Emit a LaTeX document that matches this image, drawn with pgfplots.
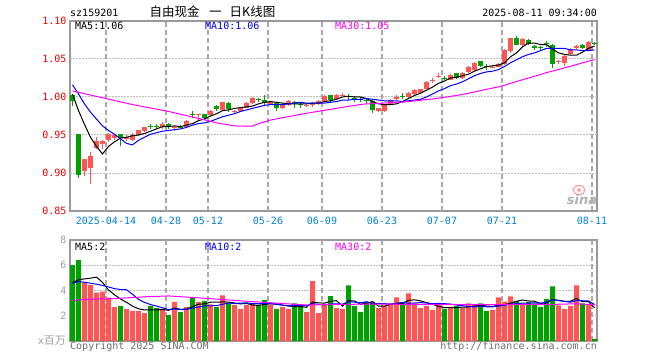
\documentclass[border=0pt]{standalone}
\usepackage{fontspec}
\setmainfont{DejaVu Sans}
\newfontfamily\mono{DejaVu Sans Mono}
\newfontfamily\cjk{Noto Sans CJK SC}
\usepackage{pgfplots}
\pgfplotsset{compat=1.18}
\definecolor{upred}{RGB}{255,85,85}
\definecolor{dngreen}{RGB}{0,160,0}
\definecolor{framegray}{RGB}{153,153,153}
\definecolor{gridgray}{RGB}{170,170,170}
\definecolor{dotgray}{RGB}{190,190,190}
\definecolor{datelbl}{RGB}{0,130,220}
\definecolor{pricelbl}{RGB}{240,0,0}
\definecolor{vollbl}{RGB}{160,160,160}
\definecolor{footgray}{RGB}{110,110,110}
\definecolor{maA}{RGB}{0,0,0}
\definecolor{maB}{RGB}{0,0,255}
\definecolor{maC}{RGB}{255,0,255}
\newcommand\mf{\mono\fontsize{10bp}{12bp}\selectfont}
\pgfplotsset{
  base/.style={
    scale only axis, anchor=south west, width=527bp,
    xmin=-0.4167, xmax=87.4167,
    axis line style={draw=framegray, line width=1.5bp},
    tick style={draw=none},
    xtick={5.58,15.58,22.58,32.58,41.58,51.58,61.58,71.58,86.58},
    ticklabel style={font=\mf},
  },
  vgrid/.style={gridgray, line width=1.2bp, dash pattern=on 5bp off 3bp, forget plot},
  hgrid/.style={dotgray, line width=1bp, dash pattern=on 2bp off 1bp, forget plot},
  wick/.style={line width=1bp, unbounded coords=jump},
  body/.style={line width=5bp, unbounded coords=jump},
}
\begin{document}
\begin{tikzpicture}[x=1bp,y=1bp]
\fill[white] (0,0) rectangle (660,360);
\path[use as bounding box] (0,0) rectangle (660,360);

% ---------------- price panel ----------------
\begin{axis}[base, at={(70bp,149bp)}, height=190bp,
  ymin=0.85, ymax=1.10,
  ytick={0.85,0.90,0.95,1.00,1.05,1.10},
  yticklabels={0.85,0.90,0.95,1.00,1.05,1.10},
  yticklabel style={text=pricelbl},
  xticklabels={2025-04-14,04-28,05-12,05-26,06-09,06-23,07-07,07-21,08-11},
  xticklabel style={text=datelbl, yshift=-3bp},
]
% grid lines (drawn as plain lines through the axis)
\addplot[hgrid] coordinates {(-0.4,0.90)(87.4,0.90)};
\addplot[hgrid] coordinates {(-0.4,0.95)(87.4,0.95)};
\addplot[hgrid] coordinates {(-0.4,1.00)(87.4,1.00)};
\addplot[hgrid] coordinates {(-0.4,1.05)(87.4,1.05)};
\addplot[vgrid] coordinates {(5.58,0.85)(5.58,1.10)};
\addplot[vgrid] coordinates {(15.58,0.85)(15.58,1.10)};
\addplot[vgrid] coordinates {(22.58,0.85)(22.58,1.10)};
\addplot[vgrid] coordinates {(32.58,0.85)(32.58,1.10)};
\addplot[vgrid] coordinates {(41.58,0.85)(41.58,1.10)};
\addplot[vgrid] coordinates {(51.58,0.85)(51.58,1.10)};
\addplot[vgrid] coordinates {(61.58,0.85)(61.58,1.10)};
\addplot[vgrid] coordinates {(71.58,0.85)(71.58,1.10)};
\addplot[vgrid] coordinates {(86.58,0.85)(86.58,1.10)};
% red wicks
\addplot[upred, wick] coordinates {
(2,0.896)(2,0.919)(2,nan) (3,0.885)(3,0.927)(3,nan) (4,0.931)(4,0.947)(4,nan) (5,0.932)(5,0.944)(5,nan) (6,0.941)(6,0.952)(6,nan) (7,0.943)(7,0.951)(7,nan) (9,0.942)(9,0.950)(9,nan) (10,0.942)(10,0.952)(10,nan) (11,0.949)(11,0.957)(11,nan) (12,0.954)(12,0.961)(12,nan) (15,0.958)(15,0.967)(15,nan) (17,0.955)(17,0.963)(17,nan) (19,0.959)(19,0.970)(19,nan) (21,0.970)(21,0.977)(21,nan) (23,0.975)(23,0.983)(23,nan) (25,0.982)(25,0.994)(25,nan) (27,0.979)(27,0.983)(27,nan) (28,0.981)(28,0.986)(28,nan) (29,0.985)(29,0.993)(29,nan) (30,0.991)(30,1.000)(30,nan) (33,0.990)(33,0.994)(33,nan) (35,0.984)(35,0.992)(35,nan) (36,0.988)(36,0.996)(36,nan) (39,0.987)(39,0.991)(39,nan) (40,0.987)(40,0.993)(40,nan) (41,0.990)(41,0.996)(41,nan) (42,0.994)(42,1.002)(42,nan) (44,0.996)(44,1.004)(44,nan) (45,1.001)(45,1.005)(45,nan) (51,0.980)(51,0.986)(51,nan) (52,0.980)(52,0.991)(52,nan) (53,0.989)(53,0.997)(53,nan) (54,0.996)(54,1.002)(54,nan) (56,0.999)(56,1.006)(56,nan) (57,1.003)(57,1.010)(57,nan) (58,1.004)(58,1.011)(58,nan) (59,1.010)(59,1.021)(59,nan) (60,1.019)(60,1.025)(60,nan) (61,1.025)(61,1.031)(61,nan) (63,1.022)(63,1.030)(63,nan) (65,1.024)(65,1.033)(65,nan) (66,1.032)(66,1.041)(66,nan) (67,1.034)(67,1.046)(67,nan) (70,1.038)(70,1.042)(70,nan) (71,1.039)(71,1.045)(71,nan) (72,1.042)(72,1.063)(72,nan) (73,1.058)(73,1.078)(73,nan) (75,1.066)(75,1.077)(75,nan) (81,1.043)(81,1.049)(81,nan) (82,1.041)(82,1.055)(82,nan) (83,1.055)(83,1.064)(83,nan) (84,1.063)(84,1.068)(84,nan) (86,1.060)(86,1.074)(86,nan)
};
% red bodies (open -> close)
\addplot[upred, body] coordinates {
(2,0.902)(2,0.919)(2,nan) (3,0.906)(3,0.922)(3,nan) (4,0.933)(4,0.942)(4,nan) (5,0.938)(5,0.942)(5,nan) (6,0.944)(6,0.951)(6,nan) (7,0.946)(7,0.950)(7,nan) (9,0.945)(9,0.948)(9,nan) (10,0.944)(10,0.950)(10,nan) (11,0.950)(11,0.956)(11,nan) (12,0.955)(12,0.960)(12,nan) (15,0.961)(15,0.965)(15,nan) (17,0.959)(17,0.961)(17,nan) (19,0.960)(19,0.969)(19,nan) (21,0.976)(21,0.977)(21,nan) (23,0.976)(23,0.982)(23,nan) (25,0.983)(25,0.993)(25,nan) (27,0.980)(27,0.982)(27,nan) (28,0.982)(28,0.985)(28,nan) (29,0.986)(29,0.992)(29,nan) (30,0.992)(30,0.999)(30,nan) (33,0.991)(33,0.993)(33,nan) (35,0.986)(35,0.991)(35,nan) (36,0.989)(36,0.995)(36,nan) (39,0.989)(39,0.990)(39,nan) (40,0.989)(40,0.992)(40,nan) (41,0.991)(41,0.995)(41,nan) (42,0.995)(42,1.001)(42,nan) (44,0.997)(44,1.003)(44,nan) (45,1.002)(45,1.003)(45,nan) (51,0.981)(51,0.985)(51,nan) (52,0.981)(52,0.990)(52,nan) (53,0.990)(53,0.996)(53,nan) (54,0.998)(54,1.000)(54,nan) (56,1.000)(56,1.005)(56,nan) (57,1.004)(57,1.009)(57,nan) (58,1.005)(58,1.010)(58,nan) (59,1.011)(59,1.020)(59,nan) (60,1.021)(60,1.022)(60,nan) (61,1.027)(61,1.028)(61,nan) (63,1.023)(63,1.029)(63,nan) (65,1.025)(65,1.032)(65,nan) (66,1.033)(66,1.040)(66,nan) (67,1.035)(67,1.045)(67,nan) (70,1.039)(70,1.040)(70,nan) (71,1.040)(71,1.044)(71,nan) (72,1.043)(72,1.062)(72,nan) (73,1.060)(73,1.077)(73,nan) (75,1.068)(75,1.076)(75,nan) (81,1.046)(81,1.047)(81,nan) (82,1.045)(82,1.054)(82,nan) (83,1.056)(83,1.063)(83,nan) (84,1.064)(84,1.067)(84,nan) (86,1.062)(86,1.072)(86,nan)
};
% green wicks
\addplot[dngreen, wick] coordinates {
(0,0.988)(0,1.004)(0,nan) (1,0.893)(1,0.951)(1,nan) (8,0.936)(8,0.951)(8,nan) (13,0.958)(13,0.964)(13,nan) (14,0.958)(14,0.964)(14,nan) (16,0.958)(16,0.966)(16,nan) (18,0.959)(18,0.963)(18,nan) (20,0.972)(20,0.981)(20,nan) (22,0.971)(22,0.978)(22,nan) (24,0.981)(24,0.989)(24,nan) (26,0.980)(26,0.993)(26,nan) (31,0.993)(31,0.999)(31,nan) (32,0.990)(32,1.002)(32,nan) (34,0.981)(34,0.993)(34,nan) (37,0.986)(37,0.995)(37,nan) (38,0.985)(38,0.992)(38,nan) (43,0.992)(43,1.003)(43,nan) (46,0.996)(46,1.004)(46,nan) (47,0.993)(47,1.001)(47,nan) (48,0.993)(48,1.000)(48,nan) (49,0.991)(49,0.998)(49,nan) (50,0.979)(50,0.996)(50,nan) (55,0.997)(55,1.005)(55,nan) (62,1.022)(62,1.027)(62,nan) (64,1.024)(64,1.032)(64,nan) (68,1.040)(68,1.048)(68,nan) (69,1.036)(69,1.044)(69,nan) (74,1.068)(74,1.080)(74,nan) (76,1.068)(76,1.076)(76,nan) (77,1.062)(77,1.069)(77,nan) (78,1.062)(78,1.067)(78,nan) (79,1.066)(79,1.074)(79,nan) (80,1.038)(80,1.070)(80,nan) (85,1.063)(85,1.070)(85,nan) (87,1.068)(87,1.073)(87,nan)
};
% green bodies
\addplot[dngreen, body] coordinates {
(0,1.003)(0,0.995)(0,nan) (1,0.951)(1,0.898)(1,nan) (8,0.951)(8,0.946)(8,nan) (13,0.962)(13,0.961)(13,nan) (14,0.962)(14,0.961)(14,nan) (16,0.964)(16,0.960)(16,nan) (18,0.961)(18,0.960)(18,nan) (20,0.978)(20,0.977)(20,nan) (22,0.977)(22,0.972)(22,nan) (24,0.988)(24,0.984)(24,nan) (26,0.992)(26,0.984)(26,nan) (31,0.998)(31,0.996)(31,nan) (32,0.996)(32,0.992)(32,nan) (34,0.992)(34,0.986)(34,nan) (37,0.994)(37,0.991)(37,nan) (38,0.991)(38,0.990)(38,nan) (43,1.002)(43,0.996)(43,nan) (46,1.001)(46,1.000)(46,nan) (47,0.999)(47,0.998)(47,nan) (48,0.997)(48,0.996)(48,nan) (49,0.996)(49,0.995)(49,nan) (50,0.995)(50,0.983)(50,nan) (55,1.001)(55,1.000)(55,nan) (62,1.025)(62,1.024)(62,nan) (64,1.031)(64,1.025)(64,nan) (68,1.047)(68,1.041)(68,nan) (69,1.041)(69,1.040)(69,nan) (74,1.078)(74,1.069)(74,nan) (76,1.075)(76,1.070)(76,nan) (77,1.067)(77,1.065)(77,nan) (78,1.066)(78,1.065)(78,nan) (79,1.071)(79,1.070)(79,nan) (80,1.069)(80,1.043)(80,nan) (85,1.069)(85,1.064)(85,nan) (87,1.071)(87,1.070)(87,nan)
};
% MA5
\addplot[maA, line width=1bp] coordinates {
(0,1.004)(1,0.982)(2,0.964)(3,0.947)(4,0.935)(5,0.925)(6,0.935)(7,0.941)(8,0.946)(9,0.947)(10,0.949)(11,0.950)(12,0.952)(13,0.955)(14,0.958)(15,0.961)(16,0.961)(17,0.962)(18,0.961)(19,0.963)(20,0.965)(21,0.969)(22,0.971)(23,0.975)(24,0.978)(25,0.982)(26,0.983)(27,0.985)(28,0.986)(29,0.987)(30,0.988)(31,0.991)(32,0.993)(33,0.994)(34,0.993)(35,0.992)(36,0.991)(37,0.991)(38,0.991)(39,0.991)(40,0.992)(41,0.992)(42,0.994)(43,0.995)(44,0.997)(45,1.000)(46,1.001)(47,1.000)(48,1.000)(49,0.998)(50,0.994)(51,0.991)(52,0.990)(53,0.990)(54,0.991)(55,0.994)(56,0.998)(57,1.002)(58,1.005)(59,1.009)(60,1.013)(61,1.018)(62,1.021)(63,1.025)(64,1.026)(65,1.028)(66,1.030)(67,1.034)(68,1.037)(69,1.040)(70,1.041)(71,1.042)(72,1.045)(73,1.053)(74,1.058)(75,1.066)(76,1.071)(77,1.071)(78,1.069)(79,1.069)(80,1.063)(81,1.058)(82,1.056)(83,1.055)(84,1.055)(85,1.059)(86,1.064)(87,1.067)
};
% MA10
\addplot[maB, line width=1bp] coordinates {
(0,1.016)(1,1.004)(2,0.991)(3,0.980)(4,0.971)(5,0.962)(6,0.956)(7,0.951)(8,0.945)(9,0.939)(10,0.937)(11,0.943)(12,0.947)(13,0.951)(14,0.953)(15,0.955)(16,0.956)(17,0.957)(18,0.958)(19,0.960)(20,0.963)(21,0.965)(22,0.966)(23,0.968)(24,0.971)(25,0.974)(26,0.976)(27,0.978)(28,0.981)(29,0.983)(30,0.985)(31,0.987)(32,0.989)(33,0.990)(34,0.990)(35,0.990)(36,0.991)(37,0.992)(38,0.993)(39,0.992)(40,0.992)(41,0.992)(42,0.992)(43,0.993)(44,0.994)(45,0.996)(46,0.996)(47,0.997)(48,0.997)(49,0.998)(50,0.997)(51,0.996)(52,0.995)(53,0.995)(54,0.995)(55,0.994)(56,0.995)(57,0.996)(58,0.997)(59,1.000)(60,1.004)(61,1.008)(62,1.011)(63,1.015)(64,1.017)(65,1.020)(66,1.024)(67,1.028)(68,1.031)(69,1.033)(70,1.034)(71,1.036)(72,1.040)(73,1.045)(74,1.049)(75,1.053)(76,1.056)(77,1.058)(78,1.061)(79,1.064)(80,1.064)(81,1.064)(82,1.064)(83,1.062)(84,1.062)(85,1.061)(86,1.061)(87,1.062)
};
% MA30
\addplot[maC, line width=1bp] coordinates {
(0,1.008)(5,0.999)(10,0.990)(16,0.981)(22,0.970)(24,0.966)(27,0.962)(29,0.9615)(30,0.9616)(31,0.9649)(32,0.9673)(33,0.9697)(34,0.9711)(35,0.9728)(36,0.9742)(37,0.9756)(38,0.9771)(39,0.9785)(40,0.9799)(41,0.9812)(42,0.9825)(43,0.9837)(44,0.9851)(45,0.9864)(46,0.9877)(47,0.9889)(48,0.9901)(49,0.9910)(50,0.9912)(51,0.9915)(52,0.9921)(53,0.9925)(54,0.9931)(55,0.9933)(56,0.9940)(57,0.9949)(58,0.9957)(59,0.9967)(60,0.9974)(61,0.9985)(62,0.9996)(63,1.0008)(64,1.0021)(65,1.0034)(66,1.0049)(67,1.0067)(68,1.0084)(69,1.0101)(70,1.0117)(71,1.0133)(72,1.0154)(73,1.0181)(74,1.0203)(75,1.0227)(76,1.0250)(77,1.0273)(78,1.0296)(79,1.0321)(80,1.0341)(81,1.0361)(82,1.0383)(83,1.0405)(84,1.0427)(85,1.0449)(86,1.0471)(87,1.0491)
};
\end{axis}

% ---------------- volume panel ----------------
\begin{axis}[base, at={(70bp,19bp)}, height=101bp,
  ymin=0, ymax=8,
  ytick={2,4,6,8}, yticklabels={2,4,6,8},
  yticklabel style={text=vollbl},
  xticklabels={},
]
\addplot[hgrid] coordinates {(-0.4,2)(87.4,2)};
\addplot[hgrid] coordinates {(-0.4,4)(87.4,4)};
\addplot[hgrid] coordinates {(-0.4,6)(87.4,6)};
\addplot[vgrid] coordinates {(5.58,0)(5.58,8)};
\addplot[vgrid] coordinates {(15.58,0)(15.58,8)};
\addplot[vgrid] coordinates {(22.58,0)(22.58,8)};
\addplot[vgrid] coordinates {(32.58,0)(32.58,8)};
\addplot[vgrid] coordinates {(41.58,0)(41.58,8)};
\addplot[vgrid] coordinates {(51.58,0)(51.58,8)};
\addplot[vgrid] coordinates {(61.58,0)(61.58,8)};
\addplot[vgrid] coordinates {(71.58,0)(71.58,8)};
\addplot[vgrid] coordinates {(86.58,0)(86.58,8)};
\addplot[ybar, bar width=5bp, bar shift=0pt, fill=upred, draw=none] coordinates {
(2,4.62)(3,4.44)(4,3.83)(5,3.91)(6,3.44)(7,2.68)(9,2.52)(10,2.39)(11,2.39)(12,2.20)(15,2.52)(17,3.10)(19,2.68)(21,3.10)(23,2.91)(25,3.62)(27,2.86)(28,2.55)(29,2.86)(30,2.99)(33,2.86)(35,2.68)(36,2.55)(39,2.28)(40,4.75)(41,2.20)(42,2.91)(44,2.60)(45,2.52)(51,2.60)(52,2.78)(53,2.99)(54,3.46)(56,3.78)(57,2.99)(58,2.60)(59,2.78)(60,2.47)(61,2.86)(63,2.60)(65,2.60)(66,2.99)(67,2.86)(70,2.47)(71,3.46)(72,3.12)(73,3.54)(75,2.99)(81,2.83)(82,2.52)(83,2.78)(84,4.41)(86,2.86)
};
\addplot[ybar, bar width=5bp, bar shift=0pt, fill=dngreen, draw=none] coordinates {
(0,6.01)(1,6.40)(8,2.78)(13,2.78)(14,2.60)(16,2.07)(18,2.28)(20,3.46)(22,3.18)(24,2.68)(26,2.99)(31,2.86)(32,3.23)(34,2.55)(37,2.99)(38,2.86)(43,3.55)(46,4.41)(47,2.76)(48,2.28)(49,3.07)(50,3.07)(55,3.07)(62,2.55)(64,2.78)(68,2.99)(69,2.39)(74,3.15)(76,3.07)(77,2.99)(78,2.70)(79,3.31)(80,4.33)(85,2.99)(87,0.16)
};
% volume MA5
\addplot[maA, line width=1bp] coordinates {
(0,4.62)(1,4.85)(2,4.92)(3,4.98)(4,5.06)(5,4.64)(6,4.05)(7,3.66)(8,3.33)(9,3.07)(10,2.76)(11,2.55)(12,2.46)(13,2.46)(14,2.47)(15,2.50)(16,2.43)(17,2.61)(18,2.51)(19,2.53)(20,2.72)(21,2.92)(22,2.94)(23,3.07)(24,3.07)(25,3.10)(26,3.08)(27,3.01)(28,2.94)(29,2.98)(30,2.85)(31,2.82)(32,2.90)(33,2.96)(34,2.90)(35,2.84)(36,2.77)(37,2.73)(38,2.73)(39,2.67)(40,3.09)(41,3.02)(42,3.00)(43,3.14)(44,3.20)(45,2.76)(46,3.20)(47,3.17)(48,2.91)(49,3.01)(50,3.12)(51,2.76)(52,2.76)(53,2.90)(54,2.98)(55,2.98)(56,3.22)(57,3.26)(58,3.18)(59,3.04)(60,2.92)(61,2.74)(62,2.65)(63,2.65)(64,2.65)(65,2.68)(66,2.70)(67,2.77)(68,2.84)(69,2.77)(70,2.74)(71,2.83)(72,2.89)(73,3.00)(74,3.15)(75,3.25)(76,3.17)(77,3.15)(78,2.98)(79,3.01)(80,3.28)(81,3.23)(82,3.14)(83,3.15)(84,3.37)(85,3.11)(86,3.11)(87,2.64)
};
% volume MA10
\addplot[maB, line width=1bp] coordinates {
(0,4.55)(1,4.72)(2,4.65)(3,4.58)(4,4.50)(5,4.40)(6,4.28)(7,4.15)(8,4.08)(9,4.06)(10,3.70)(11,3.30)(12,3.06)(13,2.89)(14,2.77)(15,2.63)(16,2.49)(17,2.54)(18,2.49)(19,2.50)(20,2.61)(21,2.68)(22,2.78)(23,2.79)(24,2.80)(25,2.91)(26,3.00)(27,2.98)(28,3.00)(29,3.02)(30,2.97)(31,2.95)(32,2.96)(33,2.95)(34,2.94)(35,2.84)(36,2.80)(37,2.81)(38,2.84)(39,2.79)(40,2.96)(41,2.90)(42,2.86)(43,2.93)(44,2.94)(45,2.92)(46,3.11)(47,3.08)(48,3.03)(49,3.11)(50,2.94)(51,2.98)(52,2.96)(53,2.91)(54,2.99)(55,3.05)(56,2.99)(57,3.01)(58,3.04)(59,3.01)(60,2.95)(61,2.98)(62,2.96)(63,2.92)(64,2.85)(65,2.80)(66,2.72)(67,2.71)(68,2.75)(69,2.71)(70,2.71)(71,2.77)(72,2.83)(73,2.92)(74,2.96)(75,3.00)(76,3.00)(77,3.02)(78,2.99)(79,3.08)(80,3.27)(81,3.20)(82,3.14)(83,3.07)(84,3.19)(85,3.19)(86,3.17)(87,2.89)
};
% volume MA30
\addplot[maC, line width=1bp] coordinates {
(0,3.20)(2,3.30)(7,3.36)(12,3.50)(16,3.57)(20,3.45)(26,3.25)(30,3.12)(35,2.97)(39,2.85)(43,2.90)(50,2.92)(60,2.90)(70,2.88)(76,2.90)(80,2.90)(84,2.95)(87,2.87)
};
\end{axis}

% ---------------- texts ----------------
\node[anchor=base west, inner sep=0pt, font=\mf] at (70,343.3) {sz159201};
\node[anchor=base west, inner sep=0pt, font=\cjk\fontsize{12.5bp}{14bp}\selectfont] at (149.5,343.5) {自由现金};
\node[anchor=base west, inner sep=0pt, font=\cjk\fontsize{12.5bp}{14bp}\selectfont] at (209,343.5) {一};
\node[anchor=base west, inner sep=0pt, font=\cjk\fontsize{12.5bp}{14bp}\selectfont] at (229.5,343.5) {日K线图};
\node[anchor=base east, inner sep=0pt, font=\mf] at (597,343.3) {2025-08-11 09:34:00};

\node[anchor=base west, inner sep=0pt, font=\mf, text=maA] at (75,330.7) {MA5:1.06};
\node[anchor=base west, inner sep=0pt, font=\mf, text=maB] at (205,330.7) {MA10:1.06};
\node[anchor=base west, inner sep=0pt, font=\mf, text=maC] at (335,330.7) {MA30:1.05};

\node[anchor=base west, inner sep=0pt, font=\mf, text=maA] at (75,110) {MA5:2};
\node[anchor=base west, inner sep=0pt, font=\mf, text=maB] at (205,110) {MA10:2};
\node[anchor=base west, inner sep=0pt, font=\mf, text=maC] at (335,110) {MA30:2};

\node[anchor=base east, inner sep=0pt, text=vollbl] at (66,16) {\mf x\cjk\fontsize{11bp}{12bp}\selectfont 百万};
\node[anchor=base west, inner sep=0pt, font=\mf, text=footgray] at (70,11) {Copyright 2025 SINA.COM};
\node[anchor=base east, inner sep=0pt, font=\mf, text=footgray] at (597,11) {http://finance.sina.com.cn};

% sina watermark
\draw[red!35, line width=1.3bp] (579,170) ellipse (6 and 4.5);
\fill[red!35] (579,170) circle (2);
\node[anchor=center, inner sep=0pt, text=black!30, font=\fontsize{13bp}{13bp}\selectfont\bfseries\itshape] at (582,160) {sina};
\end{tikzpicture}
\end{document}
